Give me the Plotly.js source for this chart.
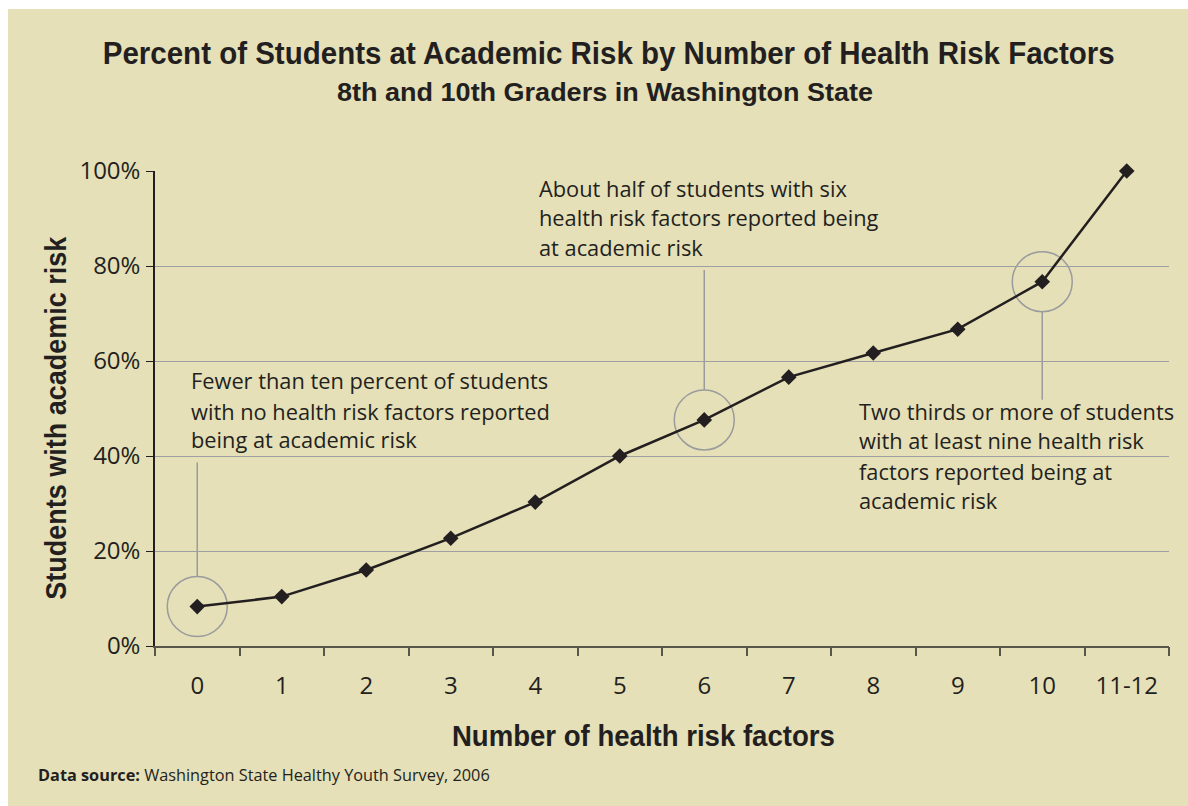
<!DOCTYPE html>
<html>
<head>
<meta charset="utf-8">
<script src="https://cdn.plot.ly/plotly-3.0.1.min.js"></script>
<style>
  html, body { margin: 0; padding: 0; background: #ffffff; }
  #chart { position: absolute; left: 8px; top: 9px; width: 1180px; height: 797px; }
</style>
</head>
<body>
<div id="chart"></div>
<script>
// ---- data ----
const categories = ["0", "1", "2", "3", "4", "5", "6", "7", "8", "9", "10", "11-12"];
const percentAtRisk = [8.3, 10.4, 16.0, 22.7, 30.3, 40.0, 47.6, 56.6, 61.7, 66.7, 76.7, 100.0];
const yTicks = [0, 20, 40, 60, 80, 100];
const highlighted = [0, 6, 10];   // indices of circled points
const note1 = ["Fewer than ten percent of students", "with no health risk factors reported", "being at academic risk"];
const note2 = ["About half of students with six", "health risk factors reported being", "at academic risk"];
const note3 = ["Two thirds or more of students", "with at least nine health risk", "factors reported being at", "academic risk"];
const titleText = "Percent of Students at Academic Risk by Number of Health Risk Factors";
const subtitleText = "8th and 10th Graders in Washington State";
const xTitleText = "Number of health risk factors";
const yTitleText = "Students with academic risk";

const BG = "#e5e0b7";
const INK = "#231f20";
const GRID = "#9d9fa3";
const CIRC = "#9a9b9d";
const REG = "'Open Sans', 'Liberation Sans', sans-serif";
const BOLD = "'Liberation Sans', Arial, sans-serif";

const trace = {
  type: "scatter",
  mode: "lines+markers",
  x: categories.map((c, i) => i),
  y: percentAtRisk,
  line: { color: INK, width: 2.5 },
  marker: { symbol: "diamond", size: 12, color: INK },
  cliponaxis: false,
  hoverinfo: "x+y",
  showlegend: false
};

const shapes = [];
highlighted.forEach(i => {
  shapes.push({
    type: "circle", xref: "x", yref: "y",
    xsizemode: "pixel", ysizemode: "pixel",
    xanchor: i, yanchor: percentAtRisk[i],
    x0: -30, x1: 30, y0: -30, y1: 30,
    line: { color: CIRC, width: 1.5 }, layer: "below"
  });
});
const leaders = [
  { i: 0, y0: 30, y1: 144 },
  { i: 6, y0: 30, y1: 150 },
  { i: 10, y0: -30, y1: -118 }
];
leaders.forEach(l => {
  shapes.push({
    type: "line", xref: "x", yref: "y",
    xsizemode: "pixel", ysizemode: "pixel",
    xanchor: l.i, yanchor: percentAtRisk[l.i],
    x0: 0, x1: 0, y0: l.y0, y1: l.y1,
    line: { color: CIRC, width: 1.5 }, layer: "below"
  });
});

const annotations = [];
function addNote(lines, xp, ys) {
  lines.forEach((t, k) => {
    annotations.push({
      text: t, xref: "paper", yref: "paper", x: xp, y: ys[k],
      xanchor: "left", yanchor: "middle", showarrow: false,
      font: { family: REG, size: 21.8, color: INK }
    });
  });
}
addNote(note1, 0.0335, [0.5579, 0.4933, 0.4337]);
addNote(note2, 0.3767, [0.9642, 0.9011, 0.8379]);
addNote(note3, 0.6923, [0.4933, 0.4316, 0.3684, 0.3053]);

// titles (condensed to the reference width after drawing)
const fitWidths = {};
function addTitle(text, x, y, size, width, angle) {
  fitWidths[text] = width;
  annotations.push({
    text: text, xref: "paper", yref: "paper", x: x, y: y,
    xanchor: "center", yanchor: "middle", textangle: angle || 0,
    showarrow: false, font: { family: BOLD, size: size, color: INK, weight: 700 }
  });
}
addTitle(titleText, 0.4477, 1.2484, 31, 1012);
addTitle(subtitleText, 0.4438, 1.166, 26, 536);
addTitle(xTitleText, 0.4818, -0.1874, 30, 383);
addTitle(yTitleText, -0.0986, 0.48, 30, 363, -90);

annotations.push({
  text: "<b>Data source:</b> Washington State Healthy Youth Survey, 2006",
  xref: "paper", yref: "paper", x: -0.1174, y: -0.2716, xanchor: "left", yanchor: "middle",
  showarrow: false, font: { family: REG, size: 16.3, color: INK }
});

const layout = {
  width: 1180, height: 797,
  paper_bgcolor: BG, plot_bgcolor: BG,
  margin: { l: 147, r: 19, t: 162, b: 160 },
  font: { family: REG, color: INK },
  xaxis: {
    type: "linear",
    range: [-0.5, 11.5],
    tickmode: "array",
    tickvals: categories.map((c, i) => i),
    ticktext: categories,
    showgrid: false, zeroline: false,
    showline: true, linecolor: "#57564a", linewidth: 2,
    ticks: "",
    tickfont: { family: REG, size: 24, color: INK },
    ticklabelstandoff: 17
  },
  xaxis2: {
    overlaying: "x", range: [-0.5, 11.5], tickmode: "array",
    tickvals: categories.map((c, i) => i - 0.5).concat([categories.length - 0.5]),
    showticklabels: false, ticks: "outside", ticklen: 9, tickwidth: 1.5, tickcolor: "#57564a",
    showgrid: false, zeroline: false, anchor: "y", side: "bottom"
  },
  yaxis: {
    range: [0, 100],
    tickmode: "array", tickvals: yTicks, ticktext: yTicks.map(v => v + "%"),
    showgrid: true, gridcolor: GRID, gridwidth: 1, zeroline: false,
    showline: true, linecolor: INK, linewidth: 1.5,
    ticks: "outside", ticklen: 7, tickcolor: INK, tickwidth: 1.2,
    tickfont: { family: REG, size: 24, color: INK },
    ticklabelstandoff: 1
  },
  shapes: shapes,
  annotations: annotations
};

const tickTrace = { type: "scatter", x: [0], y: [0], xaxis: "x2", yaxis: "y", mode: "none", hoverinfo: "skip", showlegend: false };

Plotly.newPlot("chart", [tickTrace, trace], layout, { displayModeBar: false }).then(gd => {
  gd.querySelectorAll("text.annotation-text").forEach(t => {
    const w = fitWidths[t.textContent];
    if (w) {
      t.setAttribute("textLength", w);
      t.setAttribute("lengthAdjust", "spacingAndGlyphs");
    }
  });
});
</script>
</body>
</html>
